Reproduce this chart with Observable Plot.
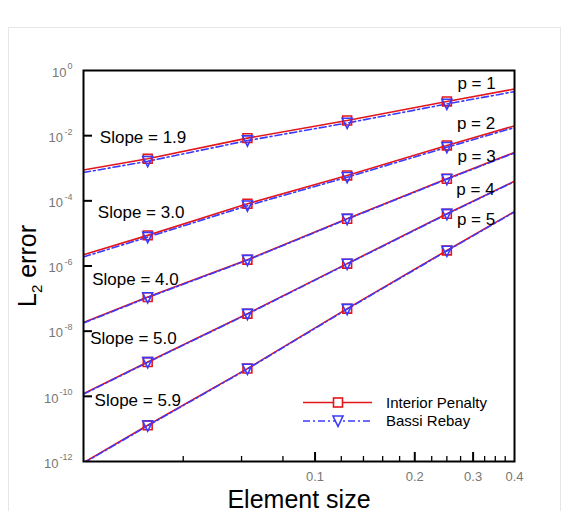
<!DOCTYPE html>
<html><head><meta charset="utf-8">
<script src="https://cdn.jsdelivr.net/npm/d3@7"></script>
<script src="https://cdn.jsdelivr.net/npm/@observablehq/plot@0.6"></script>
<style>
html,body{margin:0;padding:0;background:#fff;}
#chart{position:relative;width:577px;height:511px;}
svg{font-family:"Liberation Sans",Arial,Helvetica,sans-serif;}
</style></head><body><div id="chart"></div>
<script>
// Element sizes: line samples (frame edges included) and marker positions
const hLine = [0.02, 0.03125, 0.0625, 0.125, 0.25, 0.4];
const hData = [0.03125, 0.0625, 0.125, 0.25];
const orders = [1, 2, 3, 4, 5];

// Interior Penalty L2 errors
const ipP1 = [8.8e-4, 1.95e-3, 8.4e-3, 2.92e-2, 0.112, 0.27];
const ipP2 = [2.2e-6, 8.7e-6, 8.1e-5, 6.0e-4, 5.0e-3, 0.020];
const ipP3 = [1.85e-8, 1.11e-7, 1.56e-6, 2.82e-5, 4.76e-4, 3.05e-3];
const ipP4 = [1.2e-10, 1.13e-9, 3.44e-8, 1.18e-6, 4.0e-5, 4.0e-4];
const ipP5 = [9.2e-13, 1.29e-11, 7.1e-10, 4.9e-8, 3.0e-6, 4.7e-5];

// Bassi Rebay L2 errors
const brP1 = [7.4e-4, 1.64e-3, 7.05e-3, 2.45e-2, 0.094, 0.225];
const brP2 = [1.9e-6, 7.7e-6, 7.1e-5, 5.3e-4, 4.4e-3, 0.0178];
const brP3 = [1.78e-8, 1.08e-7, 1.51e-6, 2.74e-5, 4.6e-4, 2.95e-3];
const brP4 = [1.17e-10, 1.1e-9, 3.34e-8, 1.15e-6, 3.9e-5, 3.9e-4];
const brP5 = [8.9e-13, 1.25e-11, 6.9e-10, 4.75e-8, 2.9e-6, 4.55e-5];

// Annotations
const slopeTexts = ["Slope = 1.9", "Slope = 3.0", "Slope = 4.0", "Slope = 5.0", "Slope = 5.9"];
const slopeX = [0.0224, 0.0221, 0.02125, 0.02096, 0.0216];
const slopeY = [9.0e-3, 4.5e-5, 3.8e-7, 5.9e-9, 7.5e-11];
const pTexts = ["p = 1", "p = 2", "p = 3", "p = 4", "p = 5"];
const pX = [0.269, 0.268, 0.269, 0.267, 0.268];
const pY = [0.41, 0.0232, 2.3e-3, 2.19e-4, 2.6e-5];

// Ticks
const xMajor = [0.1, 0.2, 0.3];
const xMinor = [0.04, 0.06, 0.08, 0.12, 0.14, 0.16, 0.18, 0.225, 0.25, 0.275, 0.325, 0.35, 0.375];
const xTickLabels = [0.1, 0.2, 0.3, 0.4];
const yMajorExp = [-2, -4, -6, -8, -10];
const yLabelExp = [0, -2, -4, -6, -8, -10, -12];

const seriesNames = ["Interior Penalty", "Bassi Rebay"];
const RED = "#e3161c", BLUE = "#3a3aff";

function rows(arrs) {
  const out = [];
  arrs.forEach((arr, i) => arr.forEach((v, j) => out.push({p: orders[i], h: hLine[j], err: v, marker: hData.includes(hLine[j])})));
  return out;
}
const ipRows = rows([ipP1, ipP2, ipP3, ipP4, ipP5]);
const brRows = rows([brP1, brP2, brP3, brP4, brP5]);

const triDown = {
  draw(context, size) {
    const r = Math.sqrt(size / Math.PI);
    context.moveTo(-r, -r * 0.95);
    context.lineTo(r, -r * 0.95);
    context.lineTo(0, r * 1.1);
    context.closePath();
  }
};

const W = 577, H = 511, mL = 83, mR = 63, mT = 70, mB = 50;
const fw = W - mL - mR, fh = H - mT - mB;

const plot = Plot.plot({
  width: W, height: H,
  marginLeft: mL, marginRight: mR, marginTop: mT, marginBottom: mB,
  x: {type: "log", domain: [0.02, 0.4], axis: null},
  y: {type: "log", domain: [1e-12, 1], axis: null},
  style: {fontFamily: '"Liberation Sans", Arial, Helvetica, sans-serif', background: "white"},
  marks: [
    Plot.line(ipRows, {x: "h", y: "err", z: "p", stroke: RED, strokeWidth: 1.6, clip: true}),
    Plot.line(brRows, {x: "h", y: "err", z: "p", stroke: BLUE, strokeWidth: 1.6, strokeDasharray: "7,3,2,3", clip: true}),
    Plot.dot(ipRows.filter(d => d.marker), {x: "h", y: "err", symbol: "square", r: 5, stroke: RED, fill: "none", strokeWidth: 1.6}),
    Plot.dot(brRows.filter(d => d.marker), {x: "h", y: "err", symbol: triDown, r: 5, stroke: BLUE, fill: "none", strokeWidth: 1.6}),
    Plot.tickX(xMajor, {x: d => d, stroke: "black", strokeWidth: 2, insetTop: fh - 9}),
    Plot.tickX(xMinor, {x: d => d, stroke: "black", strokeWidth: 1.3, insetTop: fh - 5}),
    Plot.tickY(yMajorExp, {y: d => 10 ** d, stroke: "black", strokeWidth: 2, insetRight: fw - 9}),
    Plot.frame({stroke: "black", strokeWidth: 2}),
    // y tick labels: 10^k
    Plot.text(yLabelExp.filter(e => e === 0), {y: d => 10 ** d, text: () => "10", frameAnchor: "left", textAnchor: "end", lineAnchor: "middle", dx: -17, dy: 2, fontSize: 13, fill: "#777"}),
    Plot.text(yLabelExp.filter(e => e < 0 && e > -10), {y: d => 10 ** d, text: () => "10", frameAnchor: "left", textAnchor: "end", lineAnchor: "middle", dx: -20.5, dy: 2, fontSize: 13, fill: "#777"}),
    Plot.text(yLabelExp.filter(e => e <= -10), {y: d => 10 ** d, text: () => "10", frameAnchor: "left", textAnchor: "end", lineAnchor: "middle", dx: -25, dy: 2, fontSize: 13, fill: "#777"}),
    Plot.text(yLabelExp, {y: d => 10 ** d, text: d => d === 0 ? "0" : "-" + (-d), frameAnchor: "left", textAnchor: "end", lineAnchor: "middle", dx: -11, dy: -4, fontSize: 9, fill: "#777"}),
    // x tick labels
    Plot.text(xTickLabels, {x: d => d, text: d => String(d), frameAnchor: "bottom", lineAnchor: "middle", dy: 15, fontSize: 13, fill: "#777"}),
    // x axis label
    Plot.text(["Element size"], {text: d => d, frameAnchor: "bottom", lineAnchor: "middle", dy: 38, fontSize: 25, fill: "black"}),
    // annotations
    Plot.text(slopeTexts, {x: (d, i) => slopeX[i], y: (d, i) => slopeY[i], text: d => d, textAnchor: "start", fontSize: 17, fill: "black"}),
    Plot.text(pTexts, {x: (d, i) => pX[i], y: (d, i) => pY[i], text: d => d, textAnchor: "start", fontSize: 17, fill: "black"})
  ]
});
document.getElementById("chart").appendChild(plot);

const svg = d3.select(plot);
// faint page border
svg.insert("rect", ":first-child").attr("x", 8.5).attr("y", 27.5).attr("width", 552).attr("height", 500)
  .attr("fill", "none").attr("stroke", "#e6e6e6").attr("stroke-width", 1);

// y axis label with subscript
const yl = svg.append("text").attr("transform", "translate(36,266) rotate(-90)")
  .attr("text-anchor", "middle").attr("font-size", 25).attr("fill", "black");
yl.append("tspan").text("L");
yl.append("tspan").attr("font-size", 15).attr("dy", 6).text("2");
yl.append("tspan").attr("dy", -6).text(" error");

// legend
const lg = svg.append("g").attr("text-anchor", "start");
const legendRows = [
  {name: seriesNames[0], color: RED, dash: null, y: 402.5, sym: "square"},
  {name: seriesNames[1], color: BLUE, dash: "7,3,2,3", y: 421, sym: "tri"}
];
legendRows.forEach(r => {
  lg.append("line").attr("x1", 303).attr("x2", 372).attr("y1", r.y).attr("y2", r.y)
    .attr("stroke", r.color).attr("stroke-width", 1.6).attr("stroke-dasharray", r.dash);
  if (r.sym === "square") {
    lg.append("rect").attr("x", 338 - 4.5).attr("y", r.y - 4.5).attr("width", 9).attr("height", 9)
      .attr("fill", "white").attr("stroke", r.color).attr("stroke-width", 1.6);
  } else {
    lg.append("path").attr("d", `M${338-5},${r.y-5} L${338+5},${r.y-5} L338,${r.y+5.5} Z`)
      .attr("fill", "white").attr("stroke", r.color).attr("stroke-width", 1.6);
  }
  lg.append("text").attr("x", 386).attr("y", r.y).attr("dy", "0.35em").attr("font-size", 15)
    .attr("text-anchor", "start").attr("fill", "black").text(r.name);
});
</script></body></html>
